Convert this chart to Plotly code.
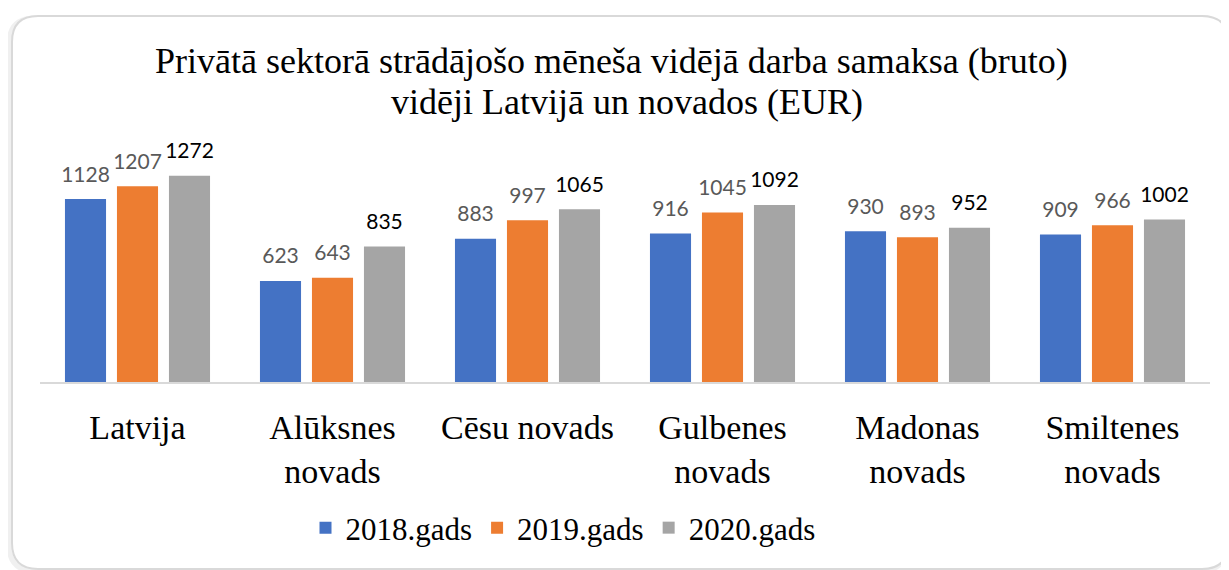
import plotly.graph_objects as go

categories = ["Latvija", "Alūksnes<br>novads", "Cēsu novads", "Gulbenes<br>novads", "Madonas<br>novads", "Smiltenes<br>novads"]
series_names = ["2018.gads", "2019.gads", "2020.gads"]
values_2018 = [1128, 623, 883, 916, 930, 909]
values_2019 = [1207, 643, 997, 1045, 893, 966]
values_2020 = [1272, 835, 1065, 1092, 952, 1002]
title_lines = ["Privātā sektorā strādājošo mēneša vidējā darba samaksa (bruto)",
               "vidēji Latvijā un novados (EUR)"]
colors = ["#4472C4", "#ED7D31", "#A5A5A5"]
label_colors = ["#595959", "#595959", "#000000"]

SERIF = "Liberation Serif, Times New Roman, serif"
SANS = "Lato, Open Sans, sans-serif"

OFF = 8  # page body margin
W, H = 1229 - OFF, 570 - OFF
L = 40 - OFF
R = W - (1210 - OFF)
T = 155 - OFF
B = H - (382 - OFF)
pw = W - L - R
ph = H - T - B


def px(x):
    return (x - OFF - L) / pw


def py(y):
    return (H - B - (y - OFF)) / ph


fig = go.Figure()
for name, vals, c in zip(series_names, [values_2018, values_2019, values_2020], colors):
    fig.add_trace(go.Bar(
        x=categories, y=vals, name=name,
        marker=dict(color=c, line=dict(width=0)),
        offsetgroup=name, alignmentgroup="g",
        hoverinfo="x+y+name",
    ))

for name, vals, lc in zip(series_names, [values_2018, values_2019, values_2020], label_colors):
    fig.add_trace(go.Scatter(
        x=categories, y=vals, mode="markers+text",
        text=[str(v) for v in vals], textposition="top center",
        textfont=dict(family=SANS, size=21, color=lc),
        marker=dict(size=18, color="rgba(0,0,0,0)"),
        showlegend=False, hoverinfo="skip", cliponaxis=False,
        offsetgroup=name, alignmentgroup="g",
    ))


def rrect(x0, y0, x1, y1, r):
    rx = r / pw
    ry = r / ph
    X0, X1 = px(x0), px(x1)
    Y0, Y1 = py(y0), py(y1)
    return (f"M {X0+rx},{Y0} L {X1-rx},{Y0} Q {X1},{Y0} {X1},{Y0-ry} "
            f"L {X1},{Y1+ry} Q {X1},{Y1} {X1-rx},{Y1} L {X0+rx},{Y1} "
            f"Q {X0},{Y1} {X0},{Y1+ry} L {X0},{Y0-ry} Q {X0},{Y0} {X0+rx},{Y0} Z")


shapes = [
    dict(type="path", xref="paper", yref="paper", path=rrect(9, 18, 1226, 571, 26),
         line=dict(color="rgba(0,0,0,0.06)", width=5), layer="below"),
    dict(type="path", xref="paper", yref="paper", path=rrect(12, 16, 1228, 569, 26),
         line=dict(color="#D9D9D9", width=2), fillcolor="white", layer="below"),
]

annotations = [
    dict(text=title_lines[0], xref="paper", yref="paper", x=px(611), y=py(61),
         xanchor="center", yanchor="middle", showarrow=False,
         font=dict(family=SERIF, size=36, color="#000000")),
    dict(text=title_lines[1], xref="paper", yref="paper", x=px(627), y=py(102),
         xanchor="center", yanchor="middle", showarrow=False,
         font=dict(family=SERIF, size=36, color="#000000")),
]

fig.update_layout(
    width=W, height=H,
    margin=dict(l=L, r=R, t=T, b=B),
    paper_bgcolor="white", plot_bgcolor="rgba(0,0,0,0)",
    barmode="group", bargap=0.2, bargroupgap=0.21,
    scattermode="group", scattergap=0.2,
    xaxis=dict(showline=True, linecolor="#D9D9D9", linewidth=2, ticks="",
               tickfont=dict(family=SERIF, size=34, color="#000000"),
               ticklabelstandoff=14, showgrid=False),
    yaxis=dict(range=[0, 1400], visible=False, showgrid=False),
    legend=dict(orientation="h", x=px(563), xanchor="center", y=py(528), yanchor="middle",
                font=dict(family=SERIF, size=31, color="#000000"),
                itemwidth=30, tracegroupgap=0),
    shapes=shapes,
    annotations=annotations,
    showlegend=True,
)

fig.write_html("out.html")
